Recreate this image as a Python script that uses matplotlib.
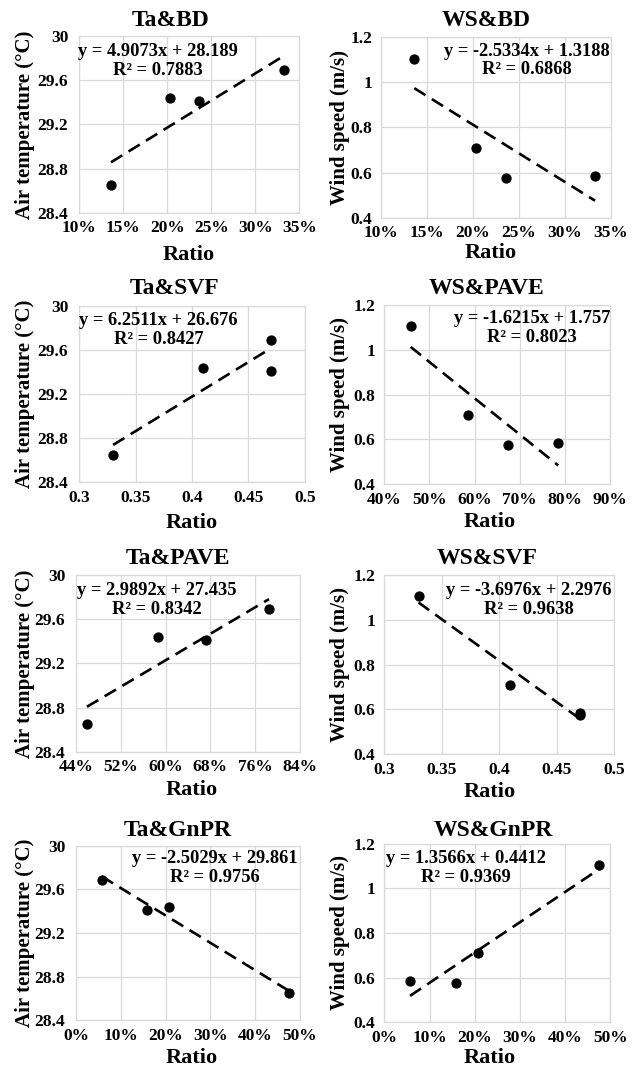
import matplotlib
matplotlib.use("Agg")
import matplotlib.pyplot as plt
import numpy as np

plt.rcParams['font.family'] = ['Liberation Serif', 'DejaVu Serif']
plt.rcParams['font.weight'] = 'bold'

# ---------------- data ----------------
air_temp = [28.65, 29.44, 29.41, 29.69]
wind_speed = [1.105, 0.710, 0.576, 0.584]
bd = [0.136, 0.203, 0.236, 0.333]
svf = [0.33, 0.41, 0.47, 0.47]
pave = [0.459, 0.586, 0.673, 0.785]
gnpr = [0.475, 0.208, 0.159, 0.057]

titles = ["Ta&BD", "WS&BD", "Ta&SVF", "WS&PAVE", "Ta&PAVE", "WS&SVF", "Ta&GnPR", "WS&GnPR"]
slopes = [4.9073, -2.5334, 6.2511, -1.6215, 2.9892, -3.6976, -2.5029, 1.3566]
intercepts = [28.189, 1.3188, 26.676, 1.757, 27.435, 2.2976, 29.861, 0.4412]
r_squared = ["0.7883", "0.6868", "0.8427", "0.8023", "0.8342", "0.9638", "0.9756", "0.9369"]

ta_yticks = [28.4, 28.8, 29.2, 29.6, 30.0]
ta_ylabels = ["28.4", "28.8", "29.2", "29.6", "30"]
ws_yticks = [0.4, 0.6, 0.8, 1.0, 1.2]
ws_ylabels = ["0.4", "0.6", "0.8", "1", "1.2"]

bd_xticks = [0.10, 0.15, 0.20, 0.25, 0.30, 0.35]
bd_xlabels = ["10%", "15%", "20%", "25%", "30%", "35%"]
svf_xticks = [0.30, 0.35, 0.40, 0.45, 0.50]
svf_xlabels = ["0.3", "0.35", "0.4", "0.45", "0.5"]
pave_ta_xticks = [0.44, 0.52, 0.60, 0.68, 0.76, 0.84]
pave_ta_xlabels = ["44%", "52%", "60%", "68%", "76%", "84%"]
pave_ws_xticks = [0.40, 0.50, 0.60, 0.70, 0.80, 0.90]
pave_ws_xlabels = ["40%", "50%", "60%", "70%", "80%", "90%"]
gnpr_xticks = [0.0, 0.1, 0.2, 0.3, 0.4, 0.5]
gnpr_xlabels = ["0%", "10%", "20%", "30%", "40%", "50%"]

panels = [
    (bd, air_temp, bd_xticks, bd_xlabels, ta_yticks, ta_ylabels),
    (bd, wind_speed, bd_xticks, bd_xlabels, ws_yticks, ws_ylabels),
    (svf, air_temp, svf_xticks, svf_xlabels, ta_yticks, ta_ylabels),
    (pave, wind_speed, pave_ws_xticks, pave_ws_xlabels, ws_yticks, ws_ylabels),
    (pave, air_temp, pave_ta_xticks, pave_ta_xlabels, ta_yticks, ta_ylabels),
    (svf, wind_speed, svf_xticks, svf_xlabels, ws_yticks, ws_ylabels),
    (gnpr, air_temp, gnpr_xticks, gnpr_xlabels, ta_yticks, ta_ylabels),
    (gnpr, wind_speed, gnpr_xticks, gnpr_xlabels, ws_yticks, ws_ylabels),
]

# ---------------- layout (pixels) ----------------
W, H = 636, 1073
axes_px = [  # left, top, right, bottom
    (79.3, 36.0, 299.3, 212.7),
    (381.3, 37.3, 610.7, 217.7),
    (79.3, 305.7, 304.7, 482.3),
    (384.0, 305.0, 610.3, 484.3),
    (76.3, 575.0, 299.7, 751.7),
    (384.0, 575.0, 614.0, 754.3),
    (76.3, 845.7, 299.7, 1020.3),
    (384.3, 843.7, 610.3, 1022.3),
]
title_px = [(171, 20), (486, 20), (175, 288), (487, 289), (178, 559), (487, 558), (178, 830), (493, 830)]
eq_px = [(158.3, 61), (526.5, 60.5), (158.5, 330), (532, 328), (156.5, 600), (529, 600), (215, 868), (465.5, 868)]
xlabel_px = [(189, 255), (491, 253), (192, 523), (490, 522), (192, 790), (490, 792), (192, 1058), (490, 1058)]
ylabel_x = [25, 339.5]

fig = plt.figure(figsize=(W / 100, H / 100), dpi=100)
fig.patch.set_facecolor("white")

def fx(px):
    return px / W

def fy(py):
    return 1 - py / H

grid_c = "#d9d9d9"

for i, (xd, yd, xt, xl, yt, yl) in enumerate(panels):
    l, t, r, b = axes_px[i]
    ax = fig.add_axes([fx(l), fy(b), (r - l) / W, (b - t) / H])
    ax.set_xlim(xt[0], xt[-1])
    ax.set_ylim(yt[0], yt[-1])
    ax.set_xticks(xt)
    ax.set_xticklabels(xl)
    ax.set_yticks(yt)
    ax.set_yticklabels(yl)
    ax.tick_params(length=0, labelsize=12.5, colors="black")
    ax.tick_params(axis="y", pad=8 if i % 2 == 0 else 6.5)
    ax.tick_params(axis="x", pad=5.5)
    for lab in ax.get_xticklabels() + ax.get_yticklabels():
        lab.set_fontweight("bold")
    ax.grid(True, color=grid_c, linewidth=0.9)
    ax.set_axisbelow(True)
    for s in ax.spines.values():
        s.set_color(grid_c)
        s.set_linewidth(0.9)

    # trendline over data range
    xs = np.array([min(xd), max(xd)])
    ys = slopes[i] * xs + intercepts[i]
    ax.plot(xs, ys, color="black", linewidth=1.9, linestyle=(0, (5.0, 2.8)), zorder=3)
    ax.plot(xd, yd, linestyle="none", marker="o", markersize=6.4, color="black", zorder=4)

    # title
    tx, ty = title_px[i]
    fig.text(fx(tx), fy(ty), titles[i], ha="center", va="center", fontsize=17, fontweight="bold")
    # equation
    ex, ey = eq_px[i]
    eq = f"y = {slopes[i]}x + {intercepts[i]}\nR\u00b2 = {r_squared[i]}"
    fig.text(fx(ex), fy(ey), eq, ha="center", va="center", multialignment="center",
             fontsize=13.3, fontweight="bold", linespacing=1.1)
    # axis labels
    lx, lyy = xlabel_px[i]
    fig.text(fx(lx), fy(lyy), "Ratio", ha="center", va="center", fontsize=16, fontweight="bold")
    ylab = "Air temperature (\u00b0C)" if i % 2 == 0 else "Wind speed (m/s)"
    fig.text(fx(ylabel_x[i % 2]), fy((t + b) / 2), ylab, rotation=90, ha="center", va="center",
             fontsize=15, fontweight="bold")

fig.savefig("out.png", dpi=100, facecolor="white")
